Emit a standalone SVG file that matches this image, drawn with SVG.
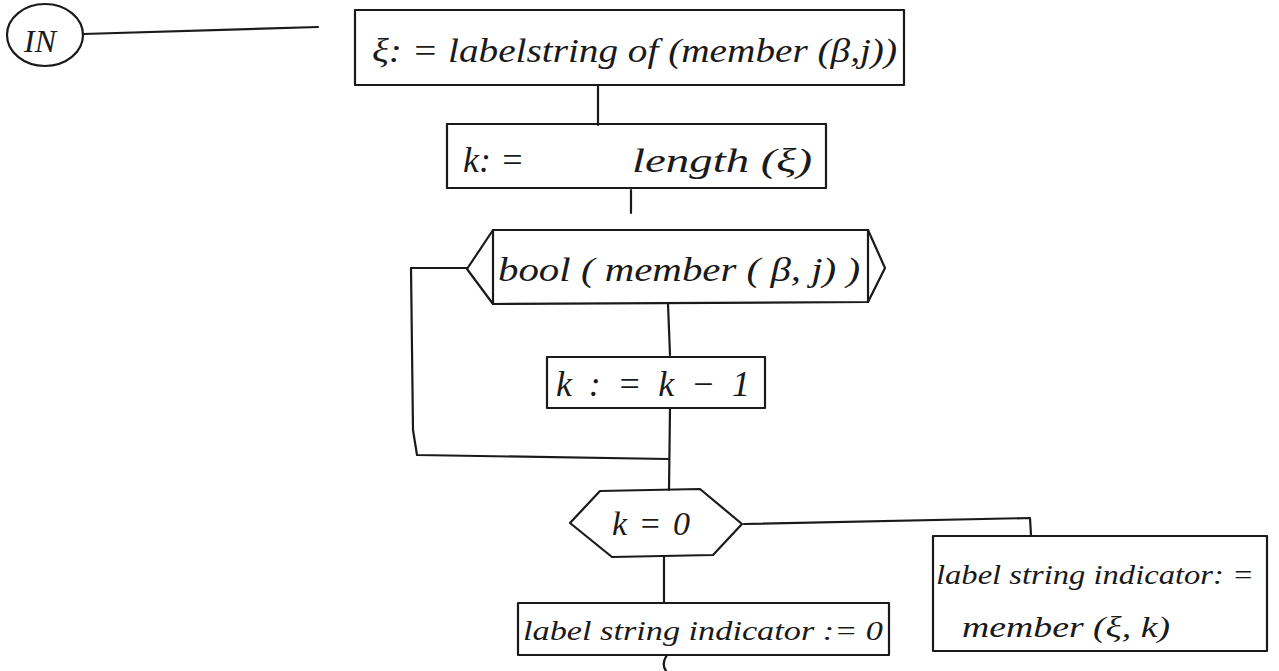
<svg xmlns="http://www.w3.org/2000/svg" width="1279" height="671" viewBox="0 0 1279 671">
<style>
.s{fill:none;stroke:#1a1a1a;stroke-width:2.2;stroke-linejoin:round;stroke-linecap:round}
.t{font-family:"Liberation Serif",serif;font-style:italic;fill:#1a1a1a}
</style>
<rect width="1279" height="671" fill="#fff"/>
<g id="connectors">
<path class="s" d="M83 34 L318 27"/>
<path class="s" d="M598 85 L598 125"/>
<path class="s" d="M631 190 L631 213"/>
<path class="s" d="M467 268 L411 268 L413 430 L417 455 L668 459"/>
<path class="s" d="M668 304 L670 355"/>
<path class="s" d="M670 408 L669 490"/>
<path class="s" d="M744 524 L1030 518 L1031 535"/>
<path class="s" d="M664 557 L664 603"/>
<path class="s" d="M667 655 Q661 664 666 671"/>
</g>
<g id="in">
<ellipse class="s" cx="45" cy="35" rx="38" ry="31"/>
<text class="t" x="24" y="52" font-size="32">IN</text>
</g>
<g id="box1">
<rect class="s" x="355" y="10" width="549" height="75"/>
<text class="t" x="372" y="62" font-size="34" textLength="525" lengthAdjust="spacingAndGlyphs">ξ: = labelstring of (member (β,j))</text>
</g>
<g id="box2">
<rect class="s" x="447" y="124" width="379" height="64"/>
<text class="t" x="463" y="172" font-size="36">k: =</text>
<text class="t" x="632" y="172" font-size="34" textLength="180" lengthAdjust="spacingAndGlyphs">length (ξ)</text>
</g>
<g id="cond1">
<path class="s" d="M493 230 L868 230 L885 268 L868 302 L493 304 L467 269 Z"/>
<path class="s" d="M493 230 L493 304 M868 230 L868 302"/>
<text class="t" x="498" y="281" font-size="34" textLength="362" lengthAdjust="spacingAndGlyphs">bool ( member ( β, j) )</text>
</g>
<g id="box3">
<rect class="s" x="547" y="357" width="218" height="51"/>
<text class="t" x="556" y="396" font-size="36" textLength="194" lengthAdjust="spacing">k : = k − 1</text>
</g>
<g id="cond2">
<path class="s" d="M570 523 L600 491 L700 489 L742 524 L713 555 L612 557 Z"/>
<text class="t" x="612" y="535" font-size="34" textLength="78" lengthAdjust="spacing">k = 0</text>
</g>
<g id="box4">
<rect class="s" x="933" y="536" width="334" height="115"/>
<text class="t" x="936" y="584" font-size="28" textLength="318" lengthAdjust="spacingAndGlyphs">label string indicator: =</text>
<text class="t" x="962" y="637" font-size="30" textLength="208" lengthAdjust="spacingAndGlyphs">member (ξ, k)</text>
</g>
<g id="box5">
<rect class="s" x="518" y="603" width="371" height="52"/>
<text class="t" x="523" y="640" font-size="28" textLength="360" lengthAdjust="spacingAndGlyphs">label string indicator := 0</text>
</g>
</svg>
